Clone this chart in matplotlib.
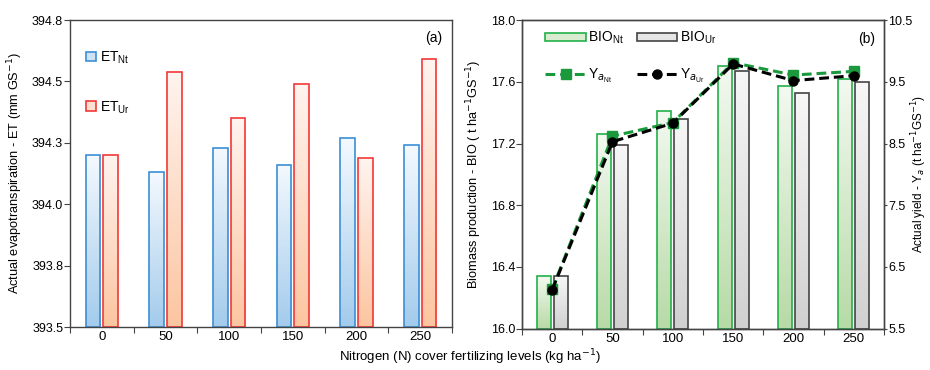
import numpy as np
import matplotlib
matplotlib.use("Agg")
import matplotlib.pyplot as plt
from matplotlib.colors import LinearSegmentedColormap
from matplotlib.patches import Rectangle
from matplotlib.lines import Line2D
from matplotlib.ticker import FuncFormatter

plt.rcParams['font.family'] = ['Liberation Sans', 'DejaVu Sans']
plt.rcParams['font.size'] = 9

levels = ['0', '50', '100', '150', '200', '250']
et_nt = [394.20, 394.13, 394.23, 394.16, 394.27, 394.24]
et_ur = [394.20, 394.54, 394.35, 394.49, 394.19, 394.59]
bio_nt = [16.34, 17.26, 17.41, 17.70, 17.57, 17.62]
bio_ur = [16.34, 17.19, 17.36, 17.67, 17.53, 17.60]
ya_nt = [6.14, 8.62, 8.84, 9.81, 9.61, 9.67]
ya_ur = [6.13, 8.53, 8.83, 9.79, 9.52, 9.60]

ET_LIM = (393.5, 394.75)
BIO_LIM = (16.0, 18.0)
YA_LIM = (5.5, 10.5)

fmt1 = FuncFormatter(lambda v, p: f'{np.floor(v * 10 + 0.5) / 10:.1f}')

fig = plt.figure(figsize=(9.3, 3.7), dpi=100)
axA = fig.add_axes([0.0753, 0.1162, 0.4108, 0.8297])
axB = fig.add_axes([0.5613, 0.1116, 0.3892, 0.834])
axB2 = axB.twinx()

x = np.arange(len(levels))
w = 0.23
off = 0.14

TICK_FS = 9
LAB_FS = 9.2

def grad_cmap(top, bottom):
    return LinearSegmentedColormap.from_list('g', [bottom, top])

def gradient_bars(ax, bars, cmap):
    g = np.linspace(0, 1, 256).reshape(-1, 1)
    for b in bars:
        x0 = b.get_x(); x1 = x0 + b.get_width()
        y0 = b.get_y(); y1 = y0 + b.get_height()
        ax.imshow(g, extent=[x0, x1, y0, y1], origin='lower', aspect='auto',
                  cmap=cmap, zorder=1, interpolation='bicubic')

blue_edge = '#3b8fd6'
red_edge = '#f2383a'
green_edge = '#22b04a'
gray_edge = '#444444'
dash = (0, (3.2, 1.6))

# Panel (a)
b1 = axA.bar(x - off, np.array(et_nt) - ET_LIM[0], w, bottom=ET_LIM[0],
             facecolor='none', edgecolor=blue_edge, linewidth=1.2, zorder=2)
b2 = axA.bar(x + off, np.array(et_ur) - ET_LIM[0], w, bottom=ET_LIM[0],
             facecolor='none', edgecolor=red_edge, linewidth=1.2, zorder=2)
gradient_bars(axA, b1, grad_cmap('#f4f9fe', '#a3cbec'))
gradient_bars(axA, b2, grad_cmap('#fff4ef', '#fcc5a0'))
axA.set_xlim(-0.5, len(levels) - 0.5)
axA.set_ylim(*ET_LIM)
axA.set_yticks(np.arange(393.5, 394.76, 0.25))
axA.yaxis.set_major_formatter(fmt1)
axA.set_ylabel('Actual evapotranspiration - ET (mm GS$^{-1}$)', fontsize=LAB_FS, labelpad=5)
axA.text(0.975, 0.94, '(a)', transform=axA.transAxes, ha='right', va='center', fontsize=10)
hA = [Rectangle((0, 0), 1, 1, facecolor='#cfe3f5', edgecolor=blue_edge, linewidth=1.2),
      Rectangle((0, 0), 1, 1, facecolor='#fde0cf', edgecolor=red_edge, linewidth=1.2)]
axA.legend(hA, ['ET$_{\\mathregular{Nt}}$', 'ET$_{\\mathregular{Ur}}$'], loc='upper left',
           bbox_to_anchor=(0.01, 0.945), frameon=False, handlelength=0.7, handleheight=0.7,
           handletextpad=0.3, labelspacing=2.4, fontsize=10)

# Panel (b)
b3 = axB.bar(x - off, np.array(bio_nt) - BIO_LIM[0], w, bottom=BIO_LIM[0],
             facecolor='none', edgecolor=green_edge, linewidth=1.2, zorder=2)
b4 = axB.bar(x + off, np.array(bio_ur) - BIO_LIM[0], w, bottom=BIO_LIM[0],
             facecolor='none', edgecolor=gray_edge, linewidth=1.2, zorder=2)
gradient_bars(axB, b3, grad_cmap('#f3f9f0', '#b7daa6'))
gradient_bars(axB, b4, grad_cmap('#f7f7f7', '#d0d0d0'))
axB.set_xlim(-0.5, len(levels) - 0.5)
axB.set_ylim(*BIO_LIM)
axB.set_yticks(np.arange(16.0, 18.01, 0.4))
axB.yaxis.set_major_formatter(fmt1)
axB.set_ylabel('Biomass production - BIO ( t ha$^{-1}$GS$^{-1}$)', fontsize=LAB_FS, labelpad=5)

ln1, = axB2.plot(x, ya_nt, color='#1a9a3c', linestyle=dash, linewidth=2.2,
                 marker='s', markersize=6.5, zorder=3)
ln2, = axB2.plot(x, ya_ur, color='black', linestyle=dash, linewidth=2.2,
                 marker='o', markersize=6.5, zorder=4)
axB2.set_ylim(*YA_LIM)
axB2.set_yticks(np.arange(5.5, 10.51, 1.0))
axB2.yaxis.set_major_formatter(fmt1)
axB2.text(0.975, 0.94, '(b)', transform=axB2.transAxes, ha='right', va='center', fontsize=10)

fig.text(0.9985, 0.53, 'Actual yield - Y$_{a}$ (t ha$^{-1}$GS$^{-1}$)', rotation=90,
         ha='right', va='center', fontsize=8.5)

hB = [Rectangle((0, 0), 1, 1, facecolor='#d9ecd0', edgecolor=green_edge, linewidth=1.2),
      Line2D([], [], color='#1a9a3c', linestyle=dash, linewidth=2.2, marker='s', markersize=6.5),
      Rectangle((0, 0), 1, 1, facecolor='#e6e6e6', edgecolor=gray_edge, linewidth=1.2),
      Line2D([], [], color='black', linestyle=dash, linewidth=2.2, marker='o', markersize=6.5)]
lB = ['BIO$_{\\mathregular{Nt}}$', 'Y$_{a_{\\mathregular{Nt}}}$',
      'BIO$_{\\mathregular{Ur}}$', 'Y$_{a_{\\mathregular{Ur}}}$']
axB2.legend(hB, lB, loc='upper left', bbox_to_anchor=(0.03, 1.01), ncol=2, frameon=False,
            handlelength=2.9, handleheight=0.5, handletextpad=0.2, labelspacing=1.5,
            columnspacing=0.9, fontsize=10)

for ax in (axA, axB):
    ax.set_xticks(np.arange(-0.5, len(levels), 1.0))
    ax.set_xticklabels([])
    ax.set_xticks(x, minor=True)
    ax.set_xticklabels(levels, minor=True)
    ax.tick_params(axis='x', which='major', direction='out', length=4, width=0.8, color='#444444')
    ax.tick_params(axis='x', which='minor', length=0, pad=3, labelsize=TICK_FS + 0.5)
    ax.tick_params(axis='y', direction='out', length=4, width=0.8, color='#444444',
                   labelsize=TICK_FS, pad=1)
    for s in ax.spines.values():
        s.set_color('#444444')
        s.set_linewidth(1.0)
axB2.tick_params(axis='y', direction='out', length=2.5, width=0.8, color='#444444',
                 labelsize=TICK_FS, pad=0.5)
for s in axB2.spines.values():
    s.set_color('#444444')
    s.set_linewidth(1.0)

fig.text(0.505, 0.008, 'Nitrogen (N) cover fertilizing levels (kg ha$^{-1}$)', ha='center',
         va='bottom', fontsize=9.5)

fig.savefig('out.png', dpi=100)
